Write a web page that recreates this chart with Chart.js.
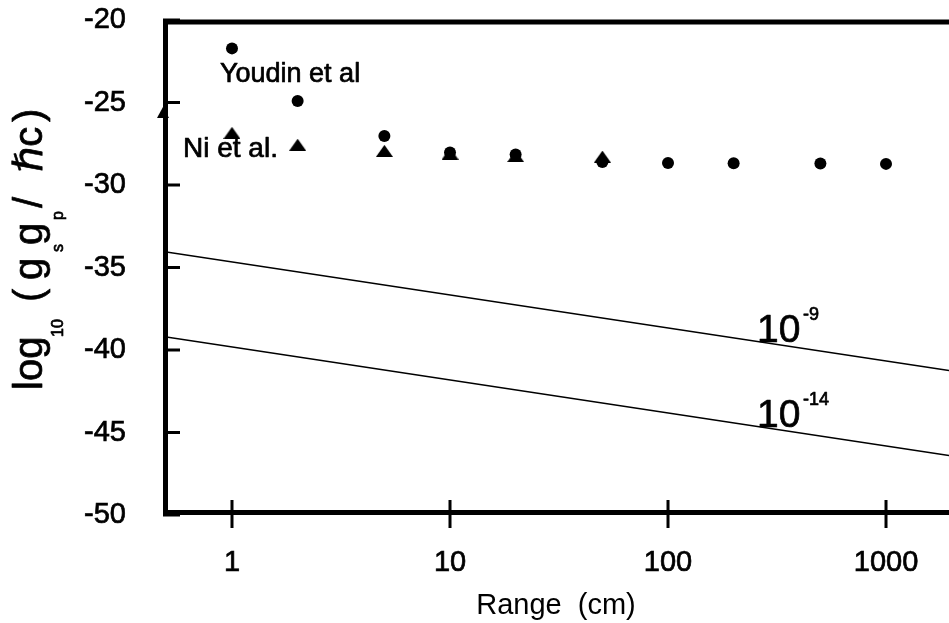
<!DOCTYPE html>
<html>
<head>
<meta charset="utf-8">
<script src="https://cdn.jsdelivr.net/npm/chart.js@4.4.1/dist/chart.umd.min.js"></script>
<style>
  html, body { margin: 0; padding: 0; background: #fff; }
  #wrap { width: 949px; height: 623px; }
</style>
</head>
<body>
<div id="wrap"><canvas id="grafico"></canvas></div>
<script>
// Eixo x: alcance em cm (escala log)
const rangeMin = 0.4825;
const rangeMax = 1945;
const xTicks = [1, 10, 100, 1000];
const yTicks = [-20, -25, -30, -35, -40, -45, -50];

// Youdin et al (círculos)
const youdinX = [1, 2, 5, 10, 20, 50, 100, 200, 500, 1000];
const youdinY = [-21.72, -24.91, -27.03, -28.03, -28.15, -28.6, -28.66, -28.68, -28.7, -28.72];

// Ni et al (triângulos)
const niX = [1, 2, 5, 10, 20, 50];
const niY = [-26.84, -27.56, -27.93, -28.1, -28.25, -28.28];

// seta no eixo y
const setaX = [0.4825];
const setaY = [-25.6];

// retas 10^-9 e 10^-14
const retaX = [0.4825, 1945];
const reta9 = [-34.03, -41.24];
const reta14 = [-39.18, -46.39];

const FONTE = '"Liberation Sans", Arial, "DejaVu Sans", sans-serif';
const TRACO = 0.7; // engrossa um pouco o texto

function pontos(xs, ys) {
    return xs.map((x, i) => ({ x: x, y: ys[i] }));
}

// triângulo preenchido usado como pointStyle
function criaTriangulo(w, h) {
    const c = document.createElement('canvas');
    c.width = w;
    c.height = h;
    const g = c.getContext('2d');
    g.fillStyle = '#000';
    g.beginPath();
    g.moveTo(w / 2, 0);
    g.lineTo(w, h);
    g.lineTo(0, h);
    g.closePath();
    g.fill();
    return c;
}

const triangulo = criaTriangulo(17, 12);
const seta = criaTriangulo(12, 11);

function escreve(ctx, texto, x, y) {
    ctx.strokeText(texto, x, y);
    ctx.fillText(texto, x, y);
}

// moldura, marcas dos eixos, título do eixo y e anotações
const moldura = {
    id: 'moldura',
    afterDraw(chart) {
        const ctx = chart.ctx;
        const a = chart.chartArea;
        const sx = chart.scales.x;
        const sy = chart.scales.y;
        ctx.save();
        ctx.strokeStyle = '#000';
        ctx.lineCap = 'butt';

        ctx.lineWidth = 5;
        ctx.beginPath();
        ctx.moveTo(a.left, a.top + 2);
        ctx.lineTo(a.right, a.top + 2);
        ctx.moveTo(a.left + 2.5, a.top);
        ctx.lineTo(a.left + 2.5, a.bottom);
        ctx.moveTo(a.left, a.bottom - 2.5);
        ctx.lineTo(a.right, a.bottom - 2.5);
        ctx.stroke();

        ctx.lineWidth = 3;
        ctx.beginPath();
        yTicks.forEach(v => {
            const py = sy.getPixelForValue(v);
            ctx.moveTo(a.left, py);
            ctx.lineTo(a.left + 17, py);
        });
        xTicks.forEach(v => {
            const px = sx.getPixelForValue(v);
            ctx.moveTo(px, a.bottom - 15);
            ctx.lineTo(px, a.bottom + 13);
        });
        ctx.stroke();

        ctx.fillStyle = '#000';
        ctx.lineWidth = TRACO;
        ctx.lineJoin = 'round';
        ctx.textBaseline = 'alphabetic';
        ctx.textAlign = 'left';

        ctx.font = '27px ' + FONTE;
        escreve(ctx, 'Youdin et al', 220, 82);
        ctx.font = '28px ' + FONTE;
        escreve(ctx, 'Ni et al.', 183, 157);

        ctx.font = '39px ' + FONTE;
        escreve(ctx, '10', 757, 342);
        escreve(ctx, '10', 757, 427);
        ctx.font = '18px ' + FONTE;
        escreve(ctx, '-9', 803, 320);
        escreve(ctx, '-14', 803, 405);

        // título do eixo y, desenhado em pedaços por causa dos subscritos
        const partes = [
            { t: 'log', y: 390, sub: false },
            { t: '10', y: 337, sub: true },
            { t: '(', y: 302, sub: false },
            { t: 'g', y: 280, sub: false },
            { t: 's', y: 252, sub: true },
            { t: 'g', y: 245, sub: false },
            { t: 'p', y: 220, sub: true },
            { t: '/', y: 208, sub: false },
            { t: 'ℏc', y: 172, sub: false },
            { t: ')', y: 122, sub: false }
        ];
        partes.forEach(p => {
            ctx.save();
            ctx.translate(p.sub ? 63 : 42, p.y);
            ctx.rotate(-Math.PI / 2);
            ctx.font = (p.sub ? '16px ' : '40px ') + FONTE;
            escreve(ctx, p.t, 0, 0);
            ctx.restore();
        });

        ctx.restore();
    }
};

const ctxGrafico = document.getElementById('grafico');

new Chart(ctxGrafico, {
    type: 'scatter',
    data: {
        datasets: [
            {
                label: '10^-9',
                data: pontos(retaX, reta9),
                showLine: true,
                borderColor: '#000',
                borderWidth: 1.6,
                pointRadius: 0
            },
            {
                label: '10^-14',
                data: pontos(retaX, reta14),
                showLine: true,
                borderColor: '#000',
                borderWidth: 1.6,
                pointRadius: 0
            },
            {
                label: 'Youdin et al',
                data: pontos(youdinX, youdinY),
                pointStyle: 'circle',
                pointRadius: 6,
                borderWidth: 0,
                backgroundColor: '#000'
            },
            {
                label: 'Ni et al.',
                data: pontos(niX, niY),
                pointStyle: triangulo,
                backgroundColor: '#000'
            },
            {
                label: 'seta',
                data: pontos(setaX, setaY),
                pointStyle: seta,
                clip: false
            }
        ]
    },
    options: {
        responsive: true,
        maintainAspectRatio: false,
        animation: false,
        events: [],
        layout: {
            autoPadding: false,
            padding: { top: 20, left: 0, right: 0, bottom: 0 }
        },
        plugins: {
            legend: { display: false },
            tooltip: { enabled: false }
        },
        scales: {
            x: {
                type: 'logarithmic',
                min: rangeMin,
                max: rangeMax,
                afterBuildTicks: s => { s.ticks = xTicks.map(v => ({ value: v })); },
                afterFit: s => {
                    s.height = 108;
                    s.paddingLeft = 0;
                    s.paddingRight = 0;
                },
                grid: { display: false, drawTicks: false },
                border: { display: false },
                ticks: {
                    autoSkip: false,
                    maxRotation: 0,
                    padding: 31,
                    color: '#000',
                    textStrokeColor: '#000',
                    textStrokeWidth: TRACO,
                    font: { family: FONTE, size: 29 },
                    callback: v => String(v)
                },
                title: {
                    display: true,
                    text: 'Range  (cm)',
                    color: '#000',
                    font: { family: FONTE, size: 29 },
                    padding: { top: 0, bottom: 0 }
                }
            },
            y: {
                min: -50,
                max: -20,
                afterBuildTicks: s => { s.ticks = yTicks.map(v => ({ value: v })); },
                afterFit: s => {
                    s.width = 163;
                    s.paddingTop = 0;
                    s.paddingBottom = 0;
                },
                grid: { display: false, drawTicks: false },
                border: { display: false },
                ticks: {
                    padding: 37,
                    color: '#000',
                    textStrokeColor: '#000',
                    textStrokeWidth: TRACO,
                    font: { family: FONTE, size: 29 }
                }
            }
        }
    },
    plugins: [moldura]
});
</script>
</body>
</html>
